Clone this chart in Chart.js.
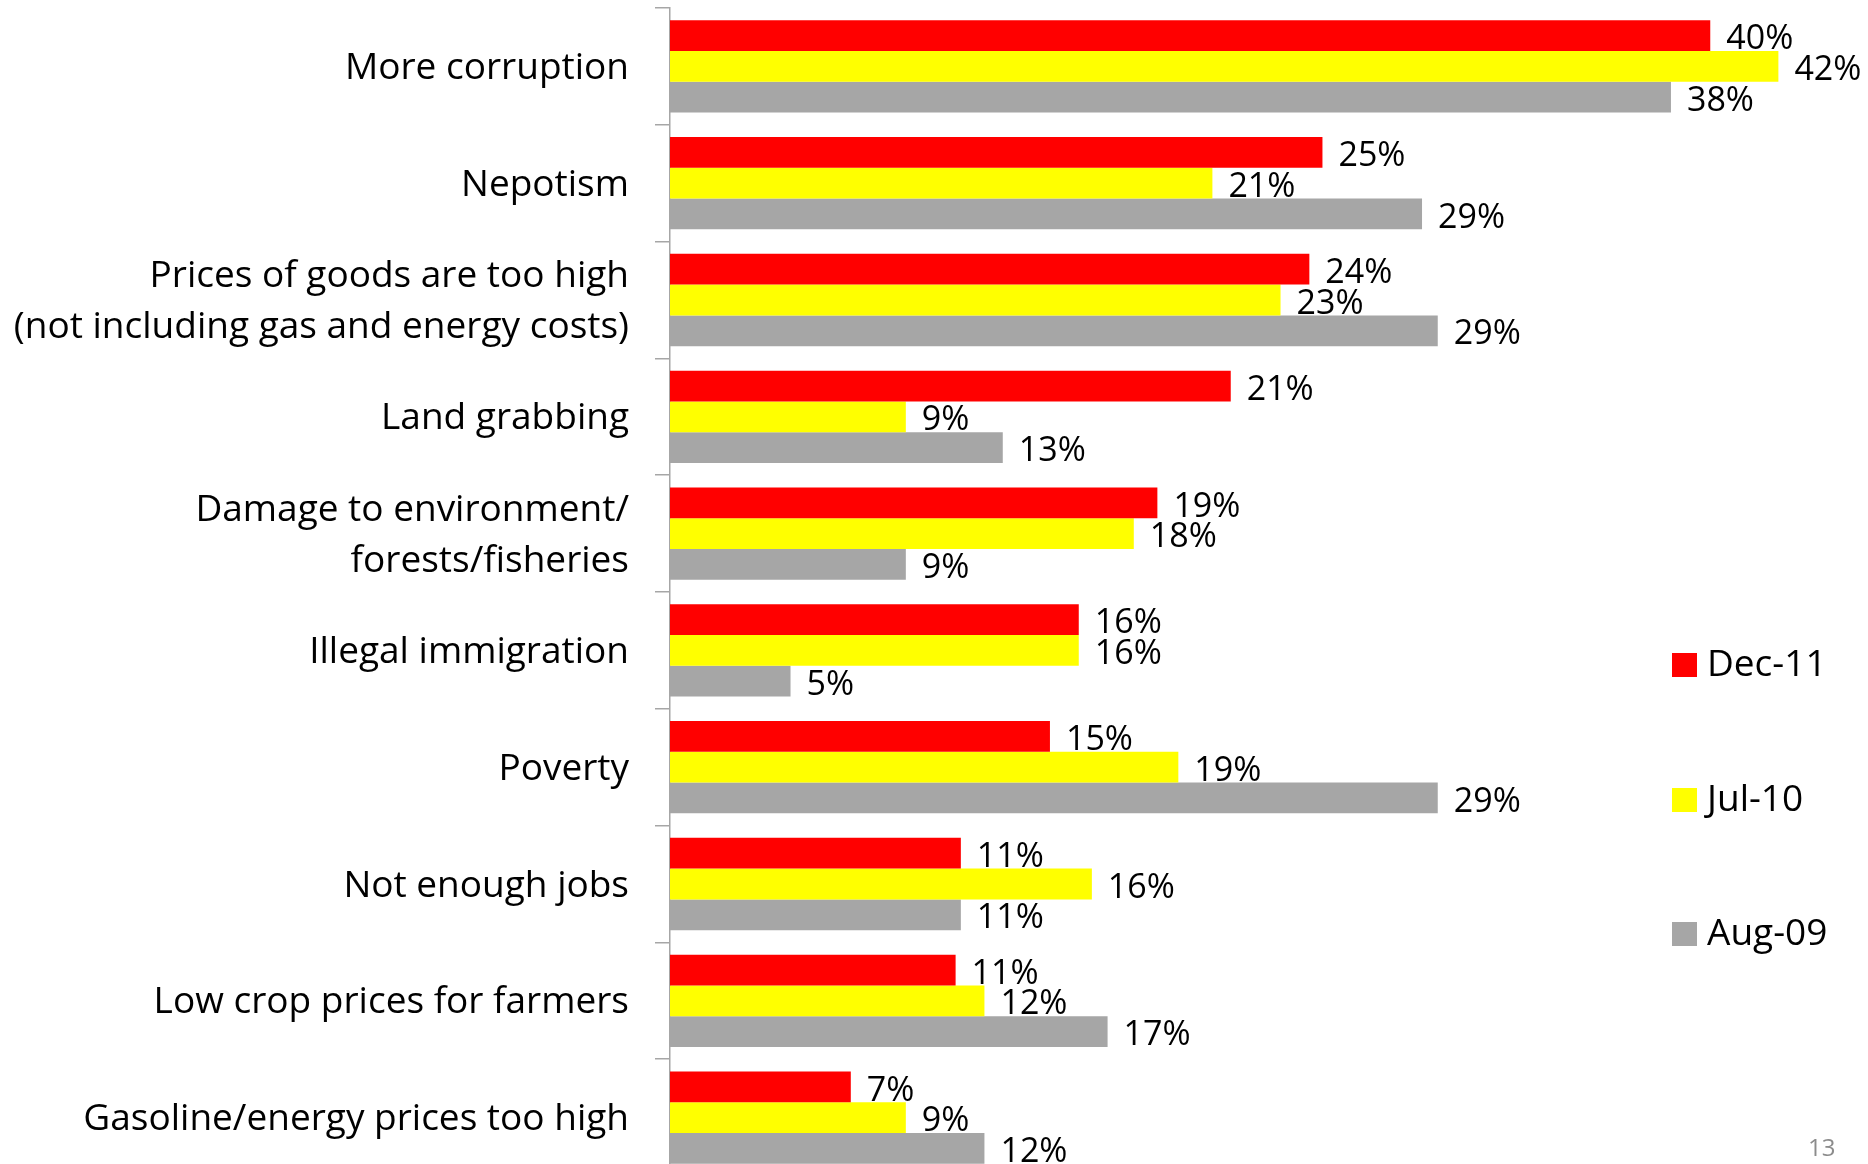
<!DOCTYPE html>
<html>
<head>
<meta charset="utf-8">
<script src="https://cdn.jsdelivr.net/npm/chart.js@4.4.1/dist/chart.umd.min.js"></script>
<style>
  html, body { margin: 0; padding: 0; background: #fff; overflow: hidden; }
  #wrap { position: relative; width: 1868px; height: 1176px; }
  #pageNum { position: absolute; left: 1808px; top: 1130px; font: 24px 'Open Sans', sans-serif; color: #8c8c8c; }
</style>
</head>
<body>
<div id="wrap"><canvas id="c"></canvas></div>
<div id="pageNum">13</div>
<script>
const categories = [
  "More corruption",
  "Nepotism",
  ["Prices of goods are too high", "(not including gas and energy costs)"],
  "Land grabbing",
  ["Damage to environment/", "forests/fisheries"],
  "Illegal immigration",
  "Poverty",
  "Not enough jobs",
  "Low crop prices for farmers",
  "Gasoline/energy prices too high"
];
const seriesNames = ["Dec-11", "Jul-10", "Aug-09"];
// bar lengths (labels show them rounded)
const dec11 = [39.7, 24.9, 24.4, 21.4, 18.6, 15.6, 14.5, 11.1, 10.9, 6.9];
const jul10 = [42.3, 20.7, 23.3, 9.0, 17.7, 15.6, 19.4, 16.1, 12.0, 9.0];
const aug09 = [38.2, 28.7, 29.3, 12.7, 9.0, 4.6, 29.3, 11.1, 16.7, 12.0];
const colors = ["#ff0000", "#ffff00", "#a6a6a6"];

const FONT = "'Open Sans', sans-serif";

const valueLabels = {
  id: 'valueLabels',
  afterDatasetsDraw(chart) {
    const ctx = chart.ctx;
    ctx.save();
    ctx.font = "34px " + FONT;
    ctx.fillStyle = "#000";
    ctx.textAlign = "left";
    ctx.textBaseline = "middle";
    chart.data.datasets.forEach((ds, di) => {
      chart.getDatasetMeta(di).data.forEach((bar, i) => {
        ctx.fillText(Math.round(ds.data[i]) + "%", bar.x + 16, bar.y + 4);
      });
    });
    ctx.restore();
  }
};

const sideLegend = {
  id: 'sideLegend',
  afterDraw(chart) {
    const ctx = chart.ctx;
    ctx.save();
    ctx.font = "37px " + FONT;
    ctx.textBaseline = "middle";
    ctx.textAlign = "left";
    const ys = [665, 800, 934];
    chart.data.datasets.forEach((ds, di) => {
      ctx.fillStyle = ds.backgroundColor;
      ctx.fillRect(1672, ys[di] - 12, 25, 24);
      ctx.fillStyle = "#000";
      ctx.fillText(ds.label, 1707, ys[di]);
    });
    ctx.restore();
  }
};

new Chart(document.getElementById('c'), {
  type: 'bar',
  data: {
    labels: categories,
    datasets: seriesNames.map((n, k) => ({
      label: n,
      data: [dec11, jul10, aug09][k],
      backgroundColor: colors[k],
      borderWidth: 0,
      barPercentage: 1.0,
      categoryPercentage: 0.79
    }))
  },
  options: {
    indexAxis: 'y',
    responsive: true,
    maintainAspectRatio: false,
    animation: false,
    layout: { padding: { top: 8, left: 0, right: 0, bottom: 0 } },
    plugins: { legend: { display: false }, tooltip: { enabled: false } },
    scales: {
      x: {
        display: false,
        min: 0,
        max: 45.72,
        grid: { display: false }
      },
      y: {
        afterFit(scale) { scale.width = 670; scale.paddingTop = 0; scale.paddingBottom = 0; },
        grid: {
          offset: true,
          drawOnChartArea: false,
          drawTicks: true,
          tickLength: 15,
          color: '#a6a6a6',
          lineWidth: 1.5
        },
        border: { color: '#a6a6a6', width: 1.5 },
        ticks: {
          color: '#000',
          padding: 26,
          labelOffset: 2,
          font: { family: FONT, size: 37, lineHeight: 1.38 },
          autoSkip: false
        }
      }
    }
  },
  plugins: [valueLabels, sideLegend]
});
</script>
</body>
</html>
